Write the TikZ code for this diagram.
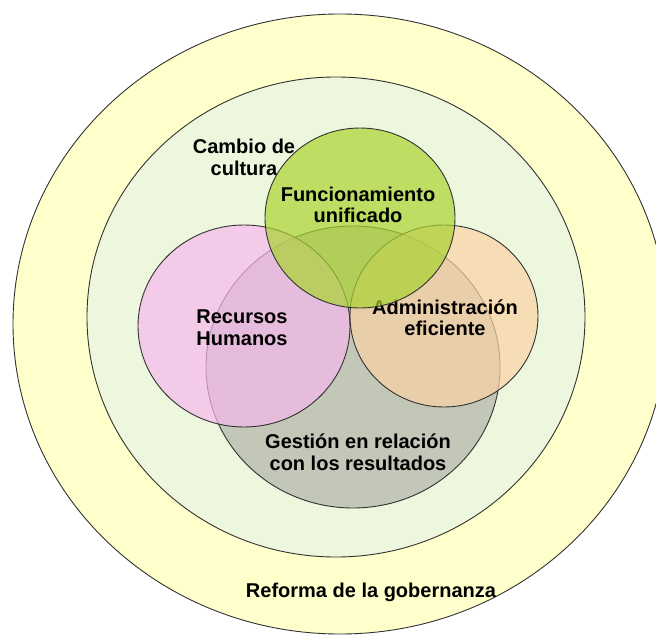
\documentclass[tikz,border=0pt]{standalone}
\usepackage{fontspec}
\setmainfont{Liberation Sans}
\definecolor{outerfill}{RGB}{255,255,204}
\definecolor{innerfill}{RGB}{237,247,222}
\definecolor{grayfill}{RGB}{178,180,168}
\definecolor{pinkfill}{RGB}{246,184,236}
\definecolor{orangefill}{RGB}{250,210,165}
\definecolor{greenfill}{RGB}{170,211,48}
\definecolor{edge}{RGB}{50,50,50}
\begin{document}
\begin{tikzpicture}[x=1pt,y=-1pt,
  ring/.style={draw=edge,line width=0.9pt},
  blob/.style={ring,fill opacity=0.7},
  txt/.style={font=\fontsize{20}{21.5}\selectfont\bfseries,align=center,inner sep=0pt}]
\fill[white] (0,0) rectangle (656,636);
\clip (0,0) rectangle (656,636);
\coordinate (O) at (340,324);
\coordinate (I) at (336,317);
\coordinate (G) at (353,367);
\coordinate (R) at (244,326);
\coordinate (A) at (444,316);
\coordinate (F) at (360,218);
\draw[ring,fill=outerfill] (O) ellipse [x radius=327,y radius=310];
\node[txt,anchor=base] (reforma) at (371,597) {Reforma de la gobernanza};
\draw[ring,fill=innerfill] (I) ellipse [x radius=249,y radius=240];
\node[txt] (cambio) at (244,157.5) {Cambio de\\cultura};
\draw[blob,fill=grayfill] (G) ellipse [x radius=147,y radius=141];
\node[txt] (gestion) at (358,452.5) {Gestión en relación\\con los resultados};
\draw[blob,fill=pinkfill] (R) ellipse [x radius=106,y radius=101];
\node[txt] (recursos) at (242,327.5) {Recursos\\Humanos};
\draw[blob,fill=orangefill] (A) ellipse [x radius=94,y radius=91];
\node[txt] (admin) at (445,318) {Administración\\eficiente};
\draw[blob,fill=greenfill] (F) ellipse [x radius=95,y radius=90];
\node[txt] (funcion) at (358,205) {Funcionamiento\\unificado};
\end{tikzpicture}
\end{document}
